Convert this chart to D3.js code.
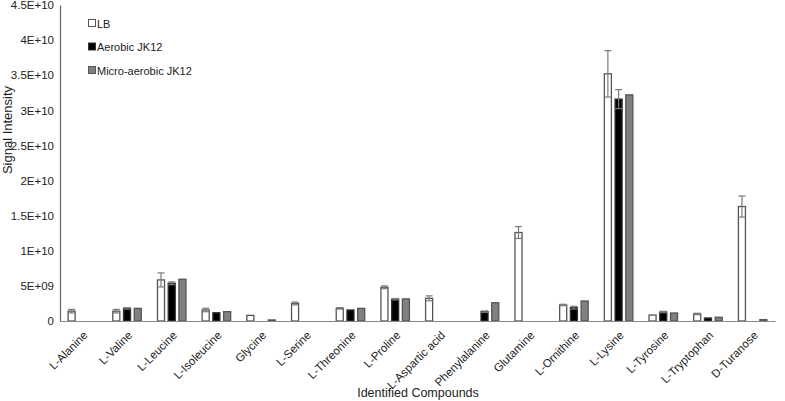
<!DOCTYPE html>
<html>
<head>
<meta charset="utf-8">
<script src="https://cdn.jsdelivr.net/npm/d3@7"></script>
<style>
  body { margin: 0; background: #fff; }
  text { font-family: "Liberation Sans", Arial, sans-serif; fill: #222; }
</style>
</head>
<body>
<div id="chart"></div>
<script>
// compounds on the x axis
var compounds = ['L-Alanine', 'L-Valine', 'L-Leucine', 'L-Isoleucine', 'Glycine', 'L-Serine',
  'L-Threonine', 'L-Proline', 'L-Aspartic acid', 'Phenylalanine', 'Glutamine', 'L-Ornithine',
  'L-Lysine', 'L-Tyrosine', 'L-Tryptophan', 'D-Turanose'];

var seriesNames = ['LB', 'Aerobic JK12', 'Micro-aerobic JK12'];

// values in units of 1E+09, null = not detected
var lbValues      = [1.4, 1.4, 5.85, 1.57, 0.8, 2.5, 1.8, 4.8, 3.23, null, 12.6, 2.28, 35.2, 0.85, 1.0, 16.3];
var aerobicValues = [null, 1.8, 5.37, 1.18, null, null, 1.57, 3.1, null, 1.33, null, 1.9, 31.6, 1.28, 0.43, null];
var microValues   = [null, 1.8, 5.95, 1.33, 0.15, null, 1.8, 3.15, null, 2.6, null, 2.85, 32.2, 1.14, 0.53, 0.2];

// error bars (only some have them)
var lbErr      = [0.25, 0.25, 1.0, 0.25, 0, 0.2, 0.1, 0.2, 0.35, 0, 0.85, 0.1, 3.3, 0, 0.1, 1.5];
var aerobicErr = [0, 0.1, 0.2, 0, 0, 0, 0, 0.1, 0, 0.1, 0, 0.2, 1.35, 0.1, 0, 0];
var microErr   = [0, 0, 0, 0, 0, 0, 0, 0, 0, 0, 0, 0, 0, 0, 0, 0];

var yTicks = [0, 5, 10, 15, 20, 25, 30, 35, 40, 45];
var yTickLabels = ['0', '5E+09', '1E+10', '1.5E+10', '2E+10', '2.5E+10', '3E+10', '3.5E+10', '4E+10', '4.5E+10'];

var fills = ['#ffffff', '#000000', '#808080'];
var strokes = ['#555555', '#333333', '#555555'];

var width = 785, height = 401;
var plotLeft = 60, plotRight = 775, plotTop = 5, plotBottom = 321;

var svg = d3.select('#chart').append('svg')
  .attr('width', width)
  .attr('height', height);

var x = d3.scaleBand()
  .domain(compounds)
  .range([plotLeft, plotRight])
  .paddingInner(0.34)
  .paddingOuter(0.17);

var xSub = d3.scaleBand()
  .domain(seriesNames)
  .range([0, x.bandwidth()])
  .paddingInner(0.25);

var y = d3.scaleLinear()
  .domain([0, 45])
  .range([plotBottom, plotTop]);

var allValues = [lbValues, aerobicValues, microValues];
var allErr = [lbErr, aerobicErr, microErr];

var rows = [];
compounds.forEach(function(c, i){
  seriesNames.forEach(function(s, k){
    if (allValues[k][i] != null) {
      rows.push({c: c, s: s, k: k, v: allValues[k][i], e: allErr[k][i]});
    }
  });
});

// bars
svg.append('g').selectAll('rect')
  .data(rows)
  .enter().append('rect')
  .attr('x', function(d){ return x(d.c) + xSub(d.s) + 0.5; })
  .attr('y', function(d){ return y(d.v); })
  .attr('width', xSub.bandwidth() - 1)
  .attr('height', function(d){ return plotBottom - y(d.v); })
  .attr('fill', function(d){ return fills[d.k]; })
  .attr('stroke', function(d){ return strokes[d.k]; })
  .attr('stroke-width', 1.3);

// error bars
var errRows = rows.filter(function(d){ return d.e > 0; });
var eg = svg.append('g').attr('stroke', '#7a7a7a').attr('stroke-width', 1.2);
errRows.forEach(function(d){
  var cx = x(d.c) + xSub(d.s) + xSub.bandwidth() / 2;
  var y1 = y(d.v + d.e), y2 = y(d.v - d.e);
  eg.append('line').attr('x1', cx).attr('x2', cx).attr('y1', y1).attr('y2', y2);
  eg.append('line').attr('x1', cx - 3.5).attr('x2', cx + 3.5).attr('y1', y1).attr('y2', y1);
  eg.append('line').attr('x1', cx - 3.5).attr('x2', cx + 3.5).attr('y1', y2).attr('y2', y2);
});

// y axis
var yAxis = d3.axisLeft(y)
  .tickValues(yTicks)
  .tickSize(0)
  .tickPadding(6)
  .tickFormat(function(d, i){ return yTickLabels[i]; });

var yg = svg.append('g')
  .attr('transform', 'translate(' + plotLeft + ',0)')
  .call(yAxis);
yg.select('.domain').attr('stroke', '#666').attr('stroke-width', 1.2);
yg.selectAll('text').style('font-size', '11.5px').style('fill', '#222').style('font-family', '"Liberation Sans", Arial, sans-serif');

// x axis
var xAxis = d3.axisBottom(x).tickSize(0).tickPadding(0);
var xg = svg.append('g')
  .attr('transform', 'translate(0,' + plotBottom + ')')
  .call(xAxis);
xg.select('.domain').attr('stroke', '#888').attr('stroke-width', 1.2);
xg.selectAll('text')
  .style('font-size', '11.5px')
  .style('fill', '#222')
  .style('font-family', '"Liberation Sans", Arial, sans-serif')
  .attr('text-anchor', 'end')
  .attr('dy', null)
  .attr('y', 0)
  .attr('transform', 'translate(6,15) rotate(-45)');

// axis titles
svg.append('text')
  .attr('x', 418)
  .attr('y', 397)
  .attr('text-anchor', 'middle')
  .style('font-size', '12.5px')
  .text('Identified  Compounds');

svg.append('text')
  .attr('transform', 'translate(12,130) rotate(-90)')
  .attr('text-anchor', 'middle')
  .style('font-size', '13px')
  .text('Signal Intensity');

// legend
var legend = svg.append('g');
seriesNames.forEach(function(s, k){
  var ly = 24 + k * 23.5;
  legend.append('rect')
    .attr('x', 88.5)
    .attr('y', ly - 4.5)
    .attr('width', 7)
    .attr('height', 7)
    .attr('fill', fills[k])
    .attr('stroke', strokes[k])
    .attr('stroke-width', 1);
  legend.append('text')
    .attr('x', 97)
    .attr('y', ly + 3.5)
    .style('font-size', '11px')
    .text(s);
});
</script>
</body>
</html>
